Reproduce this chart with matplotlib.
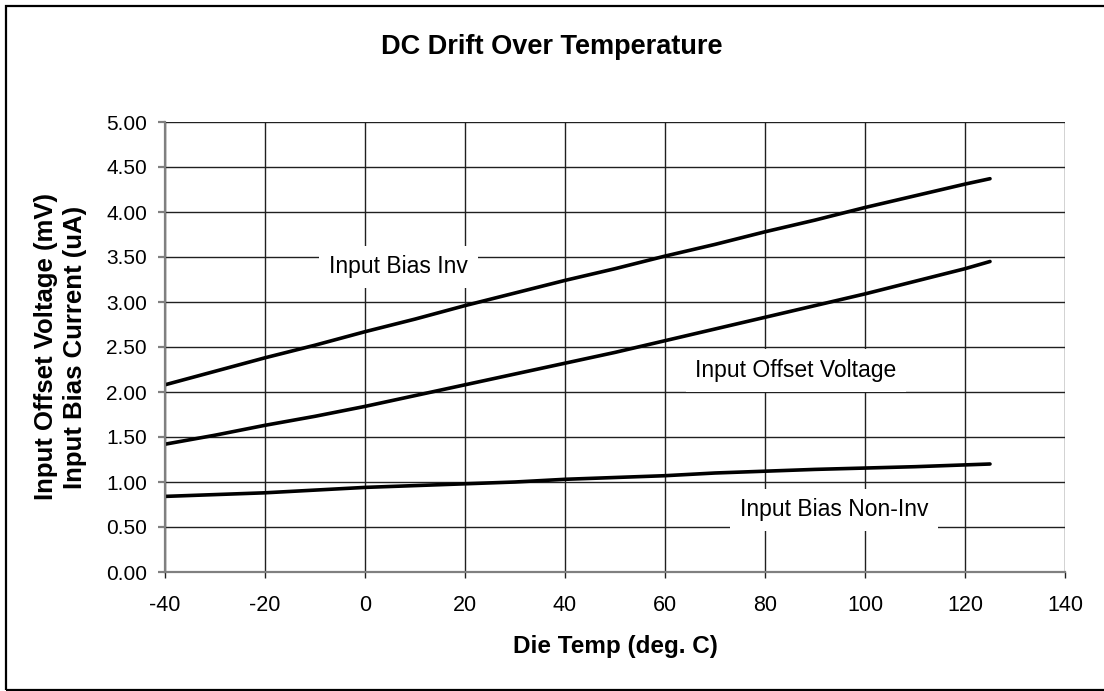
#!/usr/bin/env python
# DC drift over temperature: offset voltage and the two bias currents vs die temp.
import matplotlib
matplotlib.use("Agg")
import matplotlib.pyplot as plt
from matplotlib.patches import Rectangle

FONT = ["Liberation Sans", "DejaVu Sans"]
plt.rcParams["font.family"] = FONT
plt.rcParams["axes.unicode_minus"] = False

# die temperature (deg C) and readings
temp = [-40, -30, -20, -10, 0, 10, 20, 30, 40, 50, 60, 70, 80, 90, 100, 110, 120, 125]
bias_inv = [2.08, 2.23, 2.38, 2.52, 2.67, 2.81, 2.96, 3.10, 3.24, 3.37, 3.51, 3.64,
            3.78, 3.91, 4.05, 4.18, 4.31, 4.37]
offset_v = [1.42, 1.52, 1.63, 1.73, 1.84, 1.96, 2.08, 2.20, 2.32, 2.44, 2.57, 2.70,
            2.83, 2.96, 3.09, 3.23, 3.37, 3.45]
bias_noninv = [0.84, 0.86, 0.88, 0.91, 0.94, 0.96, 0.98, 1.00, 1.03, 1.05, 1.07, 1.10,
               1.12, 1.14, 1.155, 1.17, 1.19, 1.20]

xticks = list(range(-40, 141, 20))
yticks = [i * 0.5 for i in range(11)]

GRID = "#202020"; AXIS = "#808080"

fig = plt.figure(figsize=(11.04, 6.91), dpi=100)
ax = fig.add_axes([165 / 1104, 1 - 572 / 691, 900 / 1104, 450 / 691])
ax.set_xlim(-40, 140); ax.set_ylim(0, 5)
ax.set_xticks(xticks); ax.set_yticks(yticks)
ax.set_yticklabels([f"{v:.2f}" for v in yticks])
ax.grid(True, color=GRID, lw=1.0)
ax.set_axisbelow(True)
for s in ("top", "right"):
    ax.spines[s].set_visible(False)
for s in ("left", "bottom"):
    ax.spines[s].set_color(AXIS); ax.spines[s].set_linewidth(1.6)
ax.tick_params(axis="y", length=5, width=1.6, color=AXIS, pad=8, labelsize=15)
ax.tick_params(axis="x", length=4.5, width=1.0, color=GRID, pad=12, labelsize=15.5)

for ys in (bias_inv, offset_v, bias_noninv):
    ax.plot(temp, ys, color="black", lw=2.6, solid_capstyle="round")

box = dict(facecolor="white", edgecolor="none", pad=7)
ax.text(-7.2, 3.39, "Input Bias Inv", ha="left", va="center", fontsize=16.5, bbox=box)
ax.text(106.3, 2.24, "Input Offset Voltage", ha="right", va="center", fontsize=16.5, bbox=box)
ax.text(112.6, 0.69, "Input Bias Non-Inv", ha="right", va="center", fontsize=16.5, bbox=box)

fig.text(552 / 1104, 1 - 47 / 691, "DC Drift Over Temperature", ha="center", va="center",
         fontsize=19.5, fontweight="bold")
fig.text(615 / 1104, 1 - 647 / 691, "Die Temp (deg. C)", ha="center", va="center",
         fontsize=17.5, fontweight="bold")
fig.text(46 / 1104, 1 - 347 / 691, "Input Offset Voltage (mV)", ha="center", va="center",
         rotation=90, fontsize=18.5, fontweight="bold")
fig.text(75 / 1104, 1 - 347 / 691, "Input Bias Current (uA)", ha="center", va="center",
         rotation=90, fontsize=18.5, fontweight="bold")

# chart frame, right edge runs off the picture
fig.patches.append(Rectangle((6 / 1104, 1.5 / 691), 1.2, 1 - 7.5 / 691,
                             transform=fig.transFigure, fill=False, ec="black", lw=1.6))

fig.savefig("out.png", dpi=100)
